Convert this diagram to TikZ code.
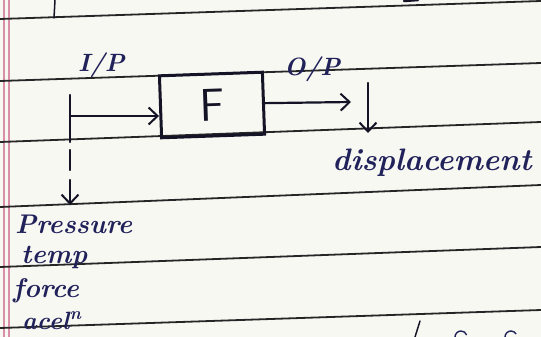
\documentclass[tikz,border=0pt]{standalone}
\usetikzlibrary{arrows.meta}
\definecolor{paper}{HTML}{F8F8F3}
\definecolor{ruling}{HTML}{262626}
\definecolor{marginred}{HTML}{DA8FA8}
\definecolor{ink}{HTML}{22225A}
\definecolor{pen}{HTML}{141426}
\tikzset{
  ruled/.style={ruling, line width=1.8pt},
  marginline/.style={marginred, line width=1.3pt},
  penline/.style={pen, line width=2.2pt, line cap=round},
  penarrow/.style={penline, -{Straight Barb[length=9pt,width=17pt,line width=2pt]}},
  blockbox/.style={draw=pen, line width=3pt, minimum width=103pt, minimum height=62pt,
    inner sep=0pt, rotate=2, font=\sffamily\fontsize{46}{46}\selectfont, text=pen},
  hand/.style={ink, inner sep=0pt, anchor=base west, font=\bfseries\itshape\fontsize{#1}{#1}\selectfont},
}
\begin{document}
\begin{tikzpicture}[x=1pt,y=-1pt]
  % sheet of ruled paper
  \fill[paper] (0,0) rectangle (541,337);
  \useasboundingbox (0,0) rectangle (541,337);
  \draw[marginline] (4,0) -- (4,337);
  \draw[marginline] (9,0) -- (9,337);
  \draw[ruled] (0,19) -- (541,1);
  \draw[ruled] (0,81) -- (541,63);
  \draw[ruled] (0,142) -- (541,122);
  \draw[ruled] (0,207) -- (541,185);
  \draw[ruled] (0,267) -- (541,247);
  \draw[ruled] (0,328) -- (541,310);

  % leftovers of writing on the neighbouring lines
  \draw[penline, line width=1.5pt] (55,0) -- (54,18);
  \draw[penline, line width=2.5pt] (404,1) -- (418,0);
  \draw[penline, line width=1.5pt] (420,321) -- (415,337);
  \draw[ink, line width=1.4pt] (455,337) arc (180:20:6pt);
  \draw[ink, line width=1.4pt] (505,337) arc (180:30:6pt);

  % transducer block
  \node[blockbox] (f) at (212,105) {F};

  % input side
  \coordinate (inTop) at (70,95);
  \coordinate (inBend) at (70,116);
  \coordinate (inLow) at (70,142);
  \coordinate (dashA) at (70,150);
  \coordinate (dashB) at (70,170);
  \coordinate (tipA) at (70,180);
  \coordinate (tipB) at (70,205);
  \draw[penline] (inTop) -- (inLow);
  \draw[penarrow] (inBend) -- (inBend -| f.west);
  \draw[penline] (dashA) -- (dashB);
  \draw[penarrow] (tipA) -- (tipB);

  % output side
  \coordinate (outEnd) at (351,102);
  \coordinate (dTop) at (368,83);
  \coordinate (dTip) at (368,133);
  \draw[penarrow] (f.east) -- (outEnd);
  \draw[penarrow] (dTop) -- (dTip);

  % labels
  \node[hand=25] (ip) at (78,72) {I/P};
  \node[hand=25] (op) at (284,76) {O/P};
  \node[hand=31] (disp) at (332,170) {displacement};
  \node[hand=27] (pres) at (15,233) {Pressure};
  \node[hand=27] (temp) at (21,263) {temp};
  \node[hand=27] (force) at (13,297) {force};
  \node[hand=25] (accel) at (22,329) {acel\textsuperscript{n}};
\end{tikzpicture}
\end{document}
